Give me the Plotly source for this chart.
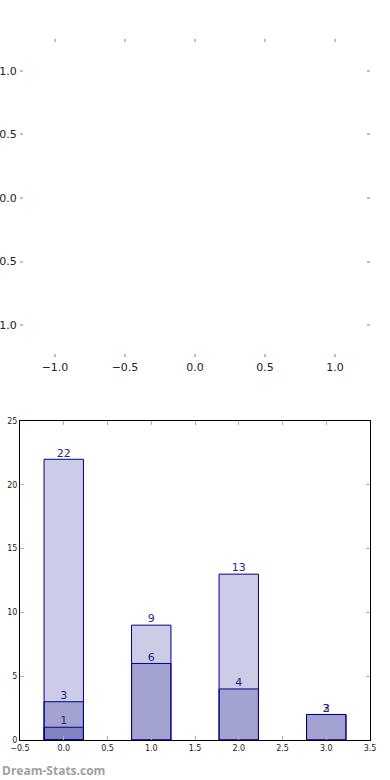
import plotly.graph_objects as go

# ---- data ----
categories = [0, 1, 2, 3]
light_values = [22, 9, 13, 2]
light_labels = ["22", "9", "13", "3"]
medium_values = [3, 6, 4, 2]
medium_labels = ["3", "6", "4", "2"]
dark_values = [1, None, None, None]
dark_labels = ["1", "", "", ""]

top_ticks = [-1.0, -0.5, 0.0, 0.5, 1.0]
top_ticktext = ["−1.0", "−0.5", "0.0", "0.5", "1.0"]
bottom_xticks = [-0.5, 0.0, 0.5, 1.0, 1.5, 2.0, 2.5, 3.0, 3.5]
bottom_xticktext = ["−0.5", "0.0", "0.5", "1.0", "1.5", "2.0", "2.5", "3.0", "3.5"]
bottom_yticks = [0, 5, 10, 15, 20, 25]

FILL = "rgba(0,0,128,0.2)"
EDGE = "#000080"
TXT = "#1f1f8f"

fig = go.Figure()

for vals in (light_values, medium_values, dark_values):
    fig.add_trace(go.Bar(x=categories, y=vals, width=0.45,
                         marker=dict(color=FILL, line=dict(color=EDGE, width=1)),
                         xaxis="x2", yaxis="y2", showlegend=False, hoverinfo="skip"))

for vals, labs in ((medium_values, medium_labels), (light_values, light_labels),
                   (dark_values, dark_labels)):
    fig.add_trace(go.Scatter(x=categories, y=vals, text=labs, mode="text",
                             textposition="top center",
                             textfont=dict(family="DejaVu Sans", size=11, color=TXT),
                             xaxis="x2", yaxis="y2", showlegend=False, hoverinfo="skip"))

fig.add_trace(go.Scatter(x=[None], y=[None], xaxis="x", yaxis="y", showlegend=False))

tickc = "#c0c0c0"
W, H = 390, 780
fig.update_layout(
    width=W, height=H,
    margin=dict(l=20, r=20, t=0, b=0),
    paper_bgcolor="white", plot_bgcolor="white",
    barmode="overlay",
    font=dict(family="DejaVu Sans", color="#222222"),
    xaxis=dict(domain=[0, 1], anchor="y", range=[-1.25, 1.25],
               tickvals=top_ticks, ticktext=top_ticktext,
               ticks="inside", ticklen=3, tickwidth=2, tickcolor=tickc,
               showline=True, linecolor="rgba(0,0,0,0)", mirror="ticks",
               showgrid=False, zeroline=False, tickfont=dict(size=11),
               automargin=False),
    yaxis=dict(domain=[1 - 357 / H, 1 - 39 / H], anchor="x", range=[-1.25, 1.25],
               tickvals=top_ticks, ticktext=top_ticktext,
               ticks="inside", ticklen=3, tickwidth=2, tickcolor=tickc,
               showline=True, linecolor="rgba(0,0,0,0)", mirror="ticks",
               showgrid=False, zeroline=False, tickfont=dict(size=11),
               automargin=False),
    xaxis2=dict(domain=[0, 1], anchor="y2", range=[-0.5, 3.5],
                tickvals=bottom_xticks, ticktext=bottom_xticktext,
                ticks="inside", ticklen=4, tickwidth=1, tickcolor="#b0b0b0",
                showline=True, linecolor="black", linewidth=1, mirror="ticks",
                showgrid=False, zeroline=False, tickfont=dict(size=8),
                automargin=False),
    yaxis2=dict(domain=[1 - 740 / H, 1 - 421 / H], anchor="x2", range=[0, 25],
                tickvals=bottom_yticks,
                ticks="inside", ticklen=4, tickwidth=1, tickcolor="#b0b0b0",
                showline=True, linecolor="black", linewidth=1, mirror="ticks",
                showgrid=False, zeroline=False, tickfont=dict(size=8),
                automargin=False),
    annotations=[dict(text="<b>Dream-Stats.com</b>", x=-20 / 350, y=(H - 770) / H,
                      xref="paper", yref="paper", xanchor="left", yanchor="middle",
                      showarrow=False,
                      font=dict(family="Open Sans", size=12, color="#a0a0a0"))],
)

fig.write_html("out.html", config={"displayModeBar": False},
               post_script="document.body.style.margin='0';")
